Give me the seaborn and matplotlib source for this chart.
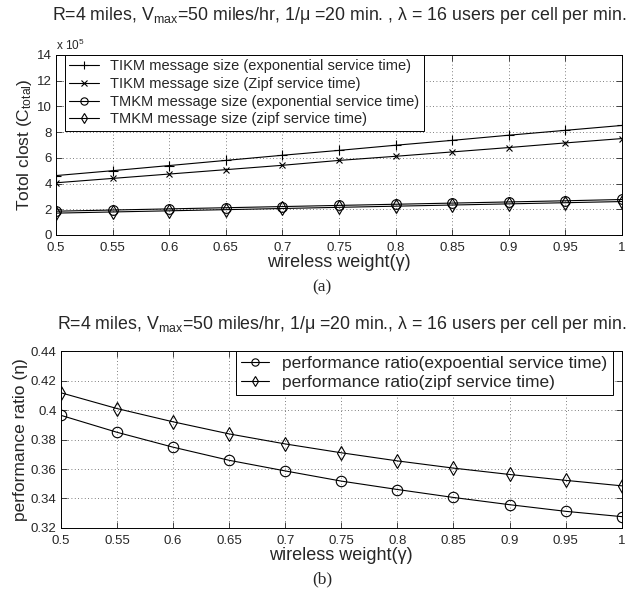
import numpy as np
import pandas as pd
import matplotlib
matplotlib.use("Agg")
import matplotlib.pyplot as plt
import seaborn as sns
from matplotlib.ticker import FuncFormatter

gamma = [0.5, 0.55, 0.6, 0.65, 0.7, 0.75, 0.8, 0.85, 0.9, 0.95, 1.0]
tikm_exp = [4.62, 5.0, 5.4, 5.8, 6.2, 6.58, 6.98, 7.36, 7.76, 8.14, 8.52]
tikm_zipf = [4.06, 4.4, 4.74, 5.08, 5.42, 5.8, 6.12, 6.46, 6.8, 7.16, 7.5]
tmkm_exp = [1.85, 1.94, 2.03, 2.12, 2.21, 2.3, 2.39, 2.48, 2.57, 2.66, 2.76]
tmkm_zipf = [1.70, 1.79, 1.88, 1.97, 2.06, 2.15, 2.24, 2.33, 2.42, 2.51, 2.60]
ratio_exp = [0.3964, 0.3849, 0.3748, 0.3659, 0.3587, 0.3518, 0.3461, 0.3407, 0.3358, 0.3313, 0.3277]
ratio_zipf = [0.4117, 0.401, 0.392, 0.3838, 0.377, 0.371, 0.3655, 0.3606, 0.3563, 0.3523, 0.3486]

labels_a = ["TIKM message size (exponential service time)",
            "TIKM message size (Zipf service time)",
            "TMKM message size (exponential service time)",
            "TMKM message size (zipf service time)"]
labels_b = ["performance ratio(expoential service time)",
            "performance ratio(zipf service time)"]
xtick_labels = ["0.5", "0.55", "0.6", "0.65", "0.7", "0.75", "0.8", "0.85", "0.9", "0.95", "1"]

sns.set_style("ticks")
plt.rcParams['font.family'] = ['Liberation Sans', 'DejaVu Sans']
plt.rcParams['mathtext.fontset'] = 'custom'
plt.rcParams['mathtext.rm'] = 'Liberation Sans'
plt.rcParams['mathtext.it'] = 'Liberation Sans:italic'
plt.rcParams['xtick.direction'] = 'in'
plt.rcParams['ytick.direction'] = 'in'

fig = plt.figure(figsize=(6.28, 5.97), dpi=100)
ax1 = fig.add_axes([0.0892, 0.6064, 0.9013, 0.3015])
ax2 = fig.add_axes([0.097, 0.1156, 0.893, 0.2964])

series_a = [tikm_exp, tikm_zipf, tmkm_exp, tmkm_zipf]
markers_a = ['+', 'x', 'o', 'd']
msize_a = [7, 5, 7, 7]
for vals, lab, mk, ms in zip(series_a, labels_a, markers_a, msize_a):
    sns.lineplot(x=gamma, y=[v * 1e5 for v in vals], ax=ax1, label=lab,
                 marker=mk, color='black', linewidth=0.8, markersize=ms,
                 markerfacecolor='none', markeredgecolor='black',
                 markeredgewidth=0.8)

series_b = [ratio_exp, ratio_zipf]
markers_b = ['o', 'd']
for vals, lab, mk in zip(series_b, labels_b, markers_b):
    sns.lineplot(x=gamma, y=vals, ax=ax2, label=lab,
                 marker=mk, color='black', linewidth=0.8, markersize=7.5,
                 markerfacecolor='none', markeredgecolor='black',
                 markeredgewidth=0.8)

title = r"R=4 miles, V$_{\rm max}$=50 miles/hr, 1/μ =20 min. , λ = 16 users per cell per min."
title_b = r"R=4 miles, V$_{\rm max}$=50 miles/hr, 1/μ =20 min., λ = 16 users per cell per min."

for ax in (ax1, ax2):
    ax.set_xlim(0.5, 1.0)
    ax.set_xticks(gamma)
    ax.set_xticklabels(xtick_labels)
    ax.tick_params(axis='both', which='both', top=True, right=True, length=4,
                   width=0.6, labelsize=9.5)
    ax.tick_params(axis='x', pad=5)
    ax.tick_params(axis='y', pad=3)
    ax.grid(True, linestyle=(0, (1, 3)), color='#555555', linewidth=0.6)
    for s in ax.spines.values():
        s.set_linewidth(0.7)
        s.set_color('black')
    ax.set_xlabel("wireless weight(γ)", fontsize=13, labelpad=0)

ax1.set_ylim(0, 14e5)
ax1.set_yticks([i * 2e5 for i in range(8)])
ax1.yaxis.set_major_formatter(FuncFormatter(lambda v, p: f"{v/1e5:g}"))
ax1.set_ylabel(r"Totol clost (C$_{\rm total}$)", fontsize=12.5, labelpad=2)
ax1.text(0.0, 1.012, r"x 10$^{5}$", transform=ax1.transAxes, fontsize=8.5,
         ha='left', va='bottom')
ax1.set_title(title, fontsize=12.8, pad=25)
leg1 = ax1.legend(loc='upper left', bbox_to_anchor=(0.016, 1.0), fontsize=10.5,
                  frameon=True, fancybox=False, edgecolor='black', framealpha=1,
                  borderaxespad=0, handlelength=2.0, labelspacing=0.25,
                  borderpad=0.3, markerscale=0.75)
leg1.get_frame().set_linewidth(0.7)

ax2.set_ylim(0.32, 0.44)
ax2.set_yticks([0.32, 0.34, 0.36, 0.38, 0.40, 0.42, 0.44])
ax2.set_yticklabels(["0.32", "0.34", "0.36", "0.38", "0.4", "0.42", "0.44"])
ax2.set_ylabel("performance ratio (η)", fontsize=12.5, labelpad=2)
ax2.set_title(title_b, fontsize=12.8, pad=16)
leg2 = ax2.legend(loc='upper right', bbox_to_anchor=(0.984, 1.0), fontsize=12.5,
                  frameon=True, fancybox=False, edgecolor='black', framealpha=1,
                  borderaxespad=0, handlelength=1.6, labelspacing=0.2,
                  borderpad=0.3, markerscale=0.7)
leg2.get_frame().set_linewidth(0.7)

fig.text(0.513, 1 - 287 / 597, "(a)", ha='center', va='center', fontsize=12.5,
         family='Liberation Serif')
fig.text(0.513, 1 - 579 / 597, "(b)", ha='center', va='center', fontsize=12.5,
         family='Liberation Serif')

fig.savefig("out.png", dpi=100)
